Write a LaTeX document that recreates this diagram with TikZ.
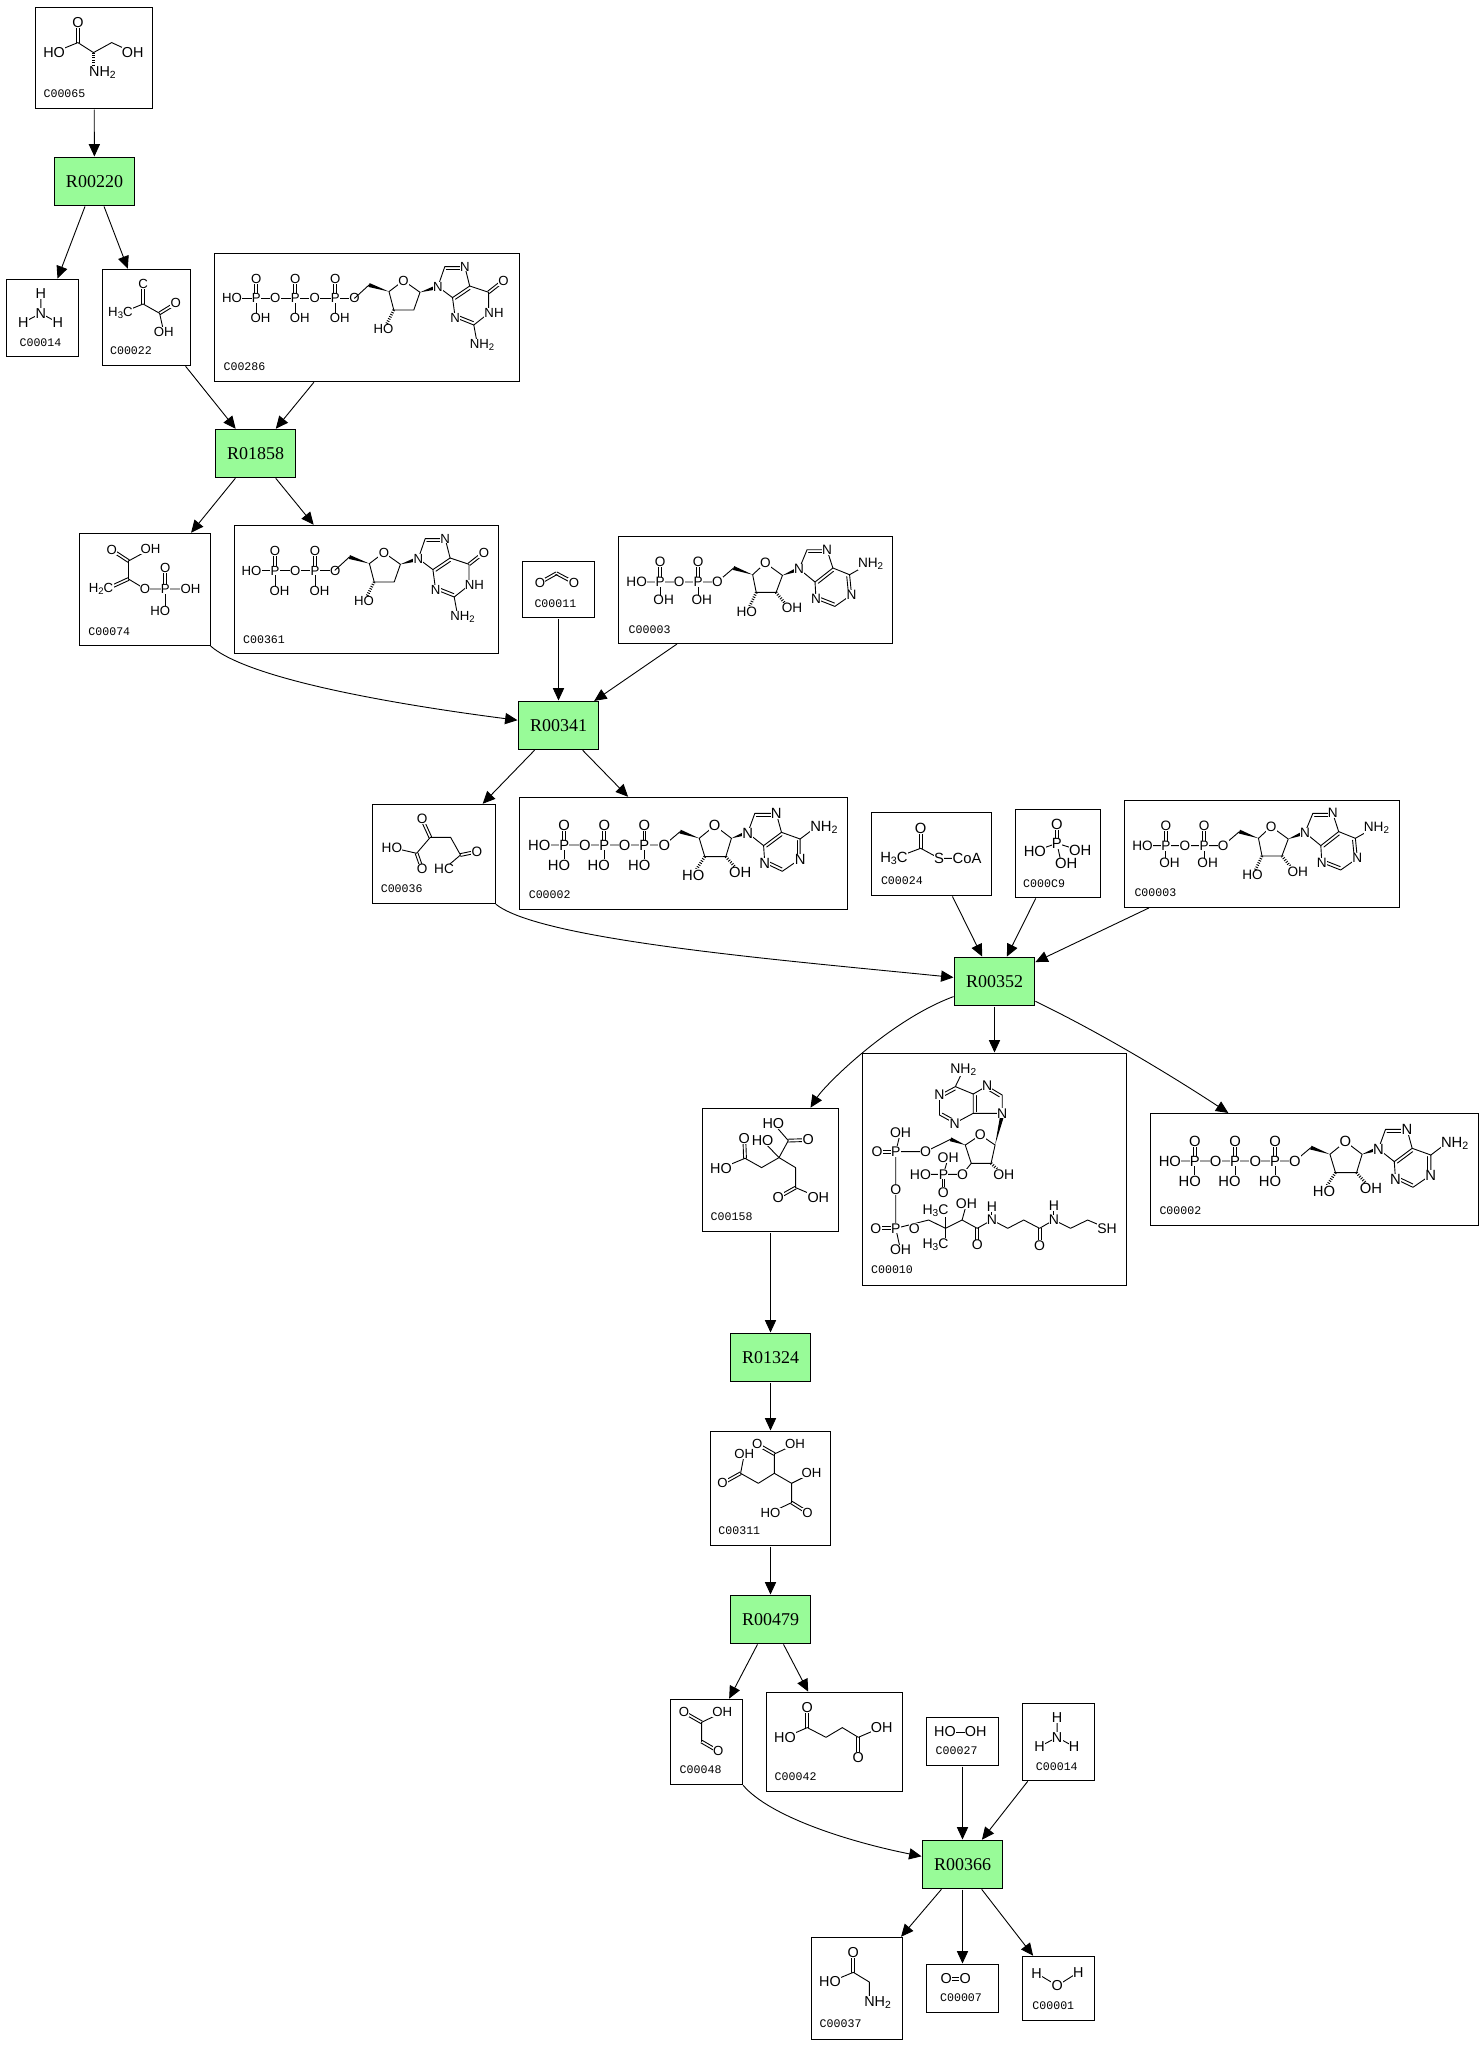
\documentclass[tikz,border=0pt]{standalone}
\usepackage{fontspec}
\setmainfont{Liberation Sans}
\newfontfamily\monof{Liberation Mono}
\newfontfamily\serf{Liberation Serif}
\usetikzlibrary{arrows.meta,calc}
\definecolor{rgreen}{RGB}{152,251,152}
\newcounter{atm}
\def\asz{7.2}
\newcommand\subn[1]{\raisebox{-0.3ex}{\scalebox{.72}{#1}}}
\tikzset{
 cpd/.style={draw=black,line width=0.5pt,fill=white,rectangle,inner sep=0pt,outer sep=0pt},
 rxn/.style={draw=black,line width=0.5pt,fill=rgreen,rectangle,inner sep=0pt,outer sep=0pt,minimum width=40pt,minimum height=24pt,font=\serf\fontsize{9}{9}\selectfont},
 rea/.style={line width=0.45pt,-{Triangle[length=6.2pt,width=5.6pt]},shorten <=.5pt,shorten >=.5pt},
 bond/.style={line width=0.45pt,line cap=round,line join=round},
 cid/.style={inner sep=0pt,font=\monof\fontsize{5.8}{5.8}\selectfont},
 atom/.style={inner sep=0.15pt,fill=white,font=\fontsize{\asz}{\asz}\selectfont},
}
\newcommand\At[2]{\stepcounter{atm}\node[atom] (at\theatm) at (#1) {#2};}
\newcommand\DB[2]{\draw[bond] ($(#1)!.7pt!90:(#2)$)--($(#2)!.7pt!-90:(#1)$);\draw[bond] ($(#1)!.7pt!-90:(#2)$)--($(#2)!.7pt!90:(#1)$);}
\newcommand\RD[3]{\draw[bond,shorten <=.8pt,shorten >=.8pt] ($(#1)!1.5pt!#3:(#2)$)--($(#2)!1.5pt!-#3:(#1)$);}
\newcommand\WD[2]{\fill (#1)--($(#2)!1pt!90:(#1)$)--($(#2)!1pt!-90:(#1)$)--cycle;}
\newcommand\HW[2]{\draw[line width=1.4pt,dash pattern=on 0.45pt off 0.75pt] (#1)--(#2);}
% name x0 x1 y0 y1 lx ly label body
\newcommand\cmp[9]{%
 \pgfmathsetmacro\xa{floor(#2)+.5}\pgfmathsetmacro\xb{floor(#3)+.5}%
 \pgfmathsetmacro\ya{floor(#4)+.5}\pgfmathsetmacro\yb{floor(#5)+.5}%
 \node[cpd,minimum width={(\xb-\xa)*0.5pt},minimum height={(\yb-\ya)*0.5pt}] (#1) at ({(\xa+\xb)/2},{(\ya+\yb)/2}) {};
 \begin{scope}[shift={(#2,#4)}]
 #9
 \node[cid] (#1-id) at (#6,#7) {#8};
 \end{scope}}
% phosphate: px py oy lx ly lowtext
\newcommand\Pho[6]{\DB{#1,#2}{#1,#3}\draw[bond] (#1,#2)--(#1,#5);\At{#4,#5}{#6}\At{#1,#3}{O}\At{#1,#2}{P}}
\newcommand\dGpart{%
 \draw[bond] (140,45)--(154.5,31.7);
 \WD{174.5,38.3}{154.5,31.7}
 \draw[bond] (174.5,38.3)--(189,27.3)--(205.5,39)--(199.3,56.7)--(179.3,56.7)--cycle;
 \HW{179.3,56.7}{172,71}
 \WD{205.5,39}{221,34.3}
 \draw[bond] (223.4,33.3)--(230.3,13.3)--(250.3,13.3)--(255.2,32.7)--(238,44.3)--(223.4,33.3);
 \RD{230.3,13.3}{250.3,13.3}{-90}
 \RD{255.2,32.7}{238,44.3}{90}
 \draw[bond] (255.2,32.7)--(274.1,39)--(274.1,60)--(259.3,71.7)--(240.7,64.3)--(238,44.3);
 \RD{259.3,71.7}{240.7,64.3}{-90}
 \DB{274.1,39}{289,27.3}
 \draw[bond] (259.3,71.7)--(263,91.7);
 \At{169,75.7}{HO}\At{223.4,33.3}{N}\At{250.3,13.3}{N}\At{240.7,64.3}{N}
 \At{279.5,60}{NH}\At{289,27.3}{O}\At{267.6,91.7}{NH\subn{2}}\At{189,27.3}{O}}
\newcommand\ADPthree{%
 \draw[bond] (18.4,45.3)--(99.6,45.3)--(116,31.3);
 \At{61.2,45.3}{O}\At{99.6,45.3}{O}\At{18.4,45.3}{HO}
 \Pho{42}{45.3}{25.3}{45.6}{63}{OH}
 \Pho{80.4}{45.3}{25.3}{84}{63}{OH}
 \WD{135.2,38}{116,31.3}
 \draw[bond] (135.2,38)--(148,26.3)--(165.2,38.7)--(158.8,55.7)--(138.8,55.7)--cycle;
 \HW{138.8,55.7}{132,70}\HW{158.8,55.7}{168,67}
 \WD{165.2,38.7}{180,33}
 \draw[bond] (182,32.3)--(190,13)--(210,13)--(216,31.3)--(198,45.3)--(182,32.3);
 \RD{190,13}{210,13}{-90}\RD{216,31.3}{198,45.3}{90}
 \draw[bond] (216,31.3)--(232.8,38)--(234.8,58)--(218,69.7)--(199,62.3)--(198,45.3);
 \RD{232.8,38}{234.8,58}{-90}\RD{218,69.7}{199,62.3}{-90}
 \draw[bond] (232.8,38)--(247,30);
 \At{129.2,74.7}{HO}\At{174.8,71.3}{OH}\At{182,32.3}{N}\At{210,13}{N}\At{234.8,58}{N}\At{199,62.3}{N}
 \At{254,27.3}{NH\subn{2}}\At{148,26.3}{O}}
\newcommand\ATPfull{%
 \draw[bond] (19.6,47.7)--(145.6,47.7)--(161.6,34.3);
 \At{65.6,47.7}{O}\At{105.6,47.7}{O}\At{145.6,47.7}{O}\At{19.6,47.7}{HO}
 \Pho{44.8}{47.7}{27.7}{39.6}{67.7}{HO}
 \Pho{85.2}{47.7}{27.7}{79.6}{67.7}{HO}
 \Pho{125.6}{47.7}{27.7}{120.4}{67.7}{HO}
 \WD{180.8,41}{161.6,34.3}
 \draw[bond] (180.8,41)--(196.4,28.3)--(213.2,41)--(207.6,59.3)--(186.4,59.3)--cycle;
 \HW{186.4,59.3}{178,72}\HW{207.6,59.3}{217,70}
 \WD{213.2,41}{227.5,36}
 \draw[bond] (229.6,35.7)--(236.8,16)--(258.4,16)--(263.6,35)--(245.6,48.3)--(229.6,35.7);
 \RD{236.8,16}{258.4,16}{-90}\RD{263.6,35}{245.6,48.3}{90}
 \draw[bond] (263.6,35)--(282.4,41.7)--(282.4,61.7)--(264.4,74)--(246.8,65.7)--(245.6,48.3);
 \RD{282.4,41.7}{282.4,61.7}{-90}\RD{264.4,74}{246.8,65.7}{-90}
 \draw[bond] (282.4,41.7)--(298,30);
 \At{174.8,77.7}{HO}\At{222,75}{OH}\At{229.6,35.7}{N}\At{258.4,16}{N}\At{282.4,61.7}{N}\At{246.8,65.7}{N}
 \At{306.4,30}{NH\subn{2}}\At{196.4,28.3}{O}}
\begin{document}
\begin{tikzpicture}[x=0.5pt,y=-0.5pt]
\path[fill=white] (0,0) rectangle (1483,2045);
\useasboundingbox (0,0) rectangle (1483,2045);

\def\asz{7.2}
\cmp{C00065}{35.5}{152.8}{7.3}{108.3}{29}{86.7}{C00065}{
 \draw[bond] (18.6,45)--(42.4,35.3)--(58,45.3)--(76.2,35.3)--(97.2,45);
 \DB{42.4,35.3}{42.4,15}
 \HW{58,45.3}{58,58}
 \At{42.4,15}{O}\At{18.6,45}{HO}\At{97.2,45}{OH}\At{66.9,65}{NH\subn{2}}}

\node[rxn] (R00220) at (94.5,181.5) {R00220};

\cmp{C00014a}{6}{78.3}{279.3}{356.3}{34.5}{63}{C00014}{
 \draw[bond] (34.8,14.7)--(34.8,34)--(17.2,43.3);\draw[bond] (34.8,34)--(51.7,43.3);
 \At{34.8,14.7}{H}\At{34.8,34}{N}\At{17.2,43.3}{H}\At{51.7,43.3}{H}}

\def\asz{6.6}
\cmp{C00022}{102.4}{190.7}{269.3}{365.3}{28.6}{81.3}{C00022}{
 \draw[bond] (18,44)--(40.7,34.7)--(57.2,44)--(61.4,63);
 \DB{40.7,34.7}{40.7,14.7}\DB{57.2,44}{73.4,34}
 \At{40.7,14.7}{C}\At{18,44}{H\subn{3}C}\At{73.4,34}{O}\At{61.4,63}{OH}}

\cmp{C00286}{214.5}{519}{253.3}{381}{30}{113.7}{C00286}{
 \draw[bond] (17.6,45)--(140,45);
 \At{60.7,45}{O}\At{100.3,45}{O}\At{140,45}{O}\At{17.6,45}{HO}
 \Pho{41.7}{45}{25.3}{45.9}{65}{OH}
 \Pho{80.7}{45}{25.3}{85.2}{65}{OH}
 \Pho{120.7}{45}{25.3}{125.2}{65}{OH}
 \dGpart}

\node[rxn] (R01858) at (255.5,453.5) {R01858};

\cmp{C00074}{79.7}{210.3}{533.3}{645.3}{29.6}{98}{C00074}{
 \draw[bond] (70.8,15.7)--(48.8,27.7)--(48.8,45.7);
 \draw[bond] (48.8,45.7)--(65.3,55.7)--(110.8,55.7);\draw[bond] (85.6,55.7)--(85.6,77.7);
 \DB{48.8,27.7}{32,16.7}\DB{48.8,45.7}{27,55.7}\DB{85.6,55.7}{85.6,35}
 \At{32,16.7}{O}\At{70.8,15.7}{OH}\At{21.4,55.7}{H\subn{2}C}\At{65.3,55.7}{O}\At{85.6,55.7}{P}
 \At{85.6,35}{O}\At{110.8,55.7}{OH}\At{80.6,77.7}{HO}}

\cmp{C00361}{234.4}{498.3}{525.3}{653.3}{29.6}{114}{C00361}{
 \draw[bond] (17,45.3)--(100.9,45.3);
 \At{60.9,45.3}{O}\At{100.9,45.3}{O}\At{17,45.3}{HO}
 \Pho{40.6}{45.3}{25.3}{45}{65.3}{OH}
 \Pho{80.6}{45.3}{25.3}{85}{65.3}{OH}
 \begin{scope}[shift={(-39.5,0)}]\dGpart\end{scope}}

\cmp{C00011}{522.4}{594.3}{561.3}{617.3}{33}{42}{C00011}{
 \DB{34,12}{17.5,21.3}\DB{34,12}{51.5,21.3}
 \At{17.5,21.3}{O}\At{51.5,21.3}{O}}

\def\asz{6.8}
\cmp{C00003a}{618.4}{892.7}{536.7}{643.3}{31.2}{92.7}{C00003}{\begin{scope}[xscale=.993]\ADPthree\end{scope}}

\node[rxn] (R00341) at (558.5,725.5) {R00341};

\cmp{C00036}{372.7}{495.5}{804.3}{903.3}{29}{84.7}{C00036}{
 \draw[bond] (19.2,43.3)--(43.9,49)--(57.6,33)--(77.9,33)--(87.8,50.7)--(71.3,64.7);
 \DB{57.6,33}{49.4,15}\DB{87.8,50.7}{104.3,47.3}\DB{43.9,49}{49.4,64.7}
 \At{49.4,15}{O}\At{19.2,43.3}{HO}\At{49.4,64.7}{O}\At{104.3,47.3}{O}\At{71.3,64.7}{HC}}

\def\asz{7.4}
\cmp{C00002a}{519.7}{847.7}{797.3}{909.3}{30}{97.7}{C00002}{\begin{scope}[xscale=.993]\ATPfull\end{scope}}

\cmp{C00024}{871.5}{991.5}{812.3}{895.7}{30.4}{68.7}{C00024}{
 \draw[bond] (22.4,46)--(49.2,36)--(67.6,46)--(95.6,46);
 \DB{49.2,36}{49.2,16}
 \At{49.2,16}{O}\At{22.4,46}{H\subn{3}C}\At{67.6,46}{S}\At{95.6,46}{CoA}}

\cmp{C00009}{1015.3}{1100.4}{809.3}{897.3}{28.8}{74}{C000C9}{
 \draw[bond] (19.6,41.7)--(41.6,34)--(65,41.3);\draw[bond] (41.6,34)--(46,54);
 \DB{41.6,34}{41.6,14.7}
 \At{41.6,14.7}{O}\At{19.6,41.7}{HO}\At{65,41.3}{OH}\At{50.8,54}{OH}\At{41.6,34}{P}}

\def\asz{6.8}
\cmp{C00003b}{1124.2}{1399.5}{800.3}{907.3}{31.2}{92.7}{C00003}{\begin{scope}[xscale=.993]\ADPthree\end{scope}}

\node[rxn] (R00352) at (994.5,981.5) {R00352};

\def\asz{7.2}
\cmp{C00158}{702.3}{838.3}{1108.3}{1231.3}{29.3}{108.7}{C00158}{
 \draw[bond] (71,15)--(86,32.3)--(76.7,49.3)--(59.3,59.3)--(42.7,50)--(18.7,60);
 \draw[bond] (60.3,32.3)--(76.7,49.3)--(93.3,59.3)--(93.3,79.3)--(116,89);
 \DB{86,32.3}{106,31.7}\DB{42.7,50}{42,30}\DB{93.3,79.3}{76,89}
 \At{71,15}{HO}\At{106,31.7}{O}\At{60.3,32.3}{HO}\At{42,30}{O}\At{18.7,60}{HO}\At{76,89}{O}\At{116,89}{OH}}

\def\asz{7.0}
\cmp{C00010}{862.4}{1126.2}{1053.3}{1285.3}{29.6}{216.7}{C00010}{\begin{scope}[xscale=.993]
 \draw[bond] (101.6,16.7)--(93.6,33.3)--(77.6,41.7)--(77.6,61.7)--(92.8,70)--(111.6,60)--(111.6,40.7)--(93.6,33.3);
 \draw[bond] (111.6,40.7)--(125.6,32.7)--(140.8,41.7)--(140.8,60)--(111.6,60);
 \RD{93.6,33.3}{77.6,41.7}{90}\RD{77.6,61.7}{92.8,70}{90}\RD{111.6,60}{111.6,40.7}{-90}\RD{125.6,32.7}{140.8,41.7}{-90}
 \WD{133.6,91.7}{140.8,62}
 \draw[bond] (133.6,91.7)--(118.8,81.7)--(103.6,91.7)--(109.6,110)--(129.6,110)--cycle;
 \WD{103.6,91.7}{88.8,86}
 \draw[bond] (88.8,86)--(63.6,98.3)--(33.6,98.3)--(33.6,175)--(66.8,166.7)--(83.6,175)--(100.4,166.7)--(115.6,175)--(130.4,166.7)--(146.4,175)--(162.4,166.7)--(178.4,175)--(192.8,166.7)--(209.6,175)--(226.8,166.7)--(246.4,175);
 \draw[bond] (33.6,98.3)--(38.4,79);
 \draw[bond] (33.6,175)--(38.4,196.7);
 \draw[bond] (83.6,157.3)--(83.6,191);
 \draw[bond] (100.4,166.7)--(104.8,150.7);
 \draw[bond] (130.4,153.3)--(130.4,166.7);\draw[bond] (192.8,152.7)--(192.8,166.7);
 \DB{115.6,175}{115.6,191.7}\DB{178.4,175}{178.4,192.3}
 \draw[bond] (109.6,110)--(100.8,121)--(58.4,121);\draw[bond] (81.6,121)--(86.4,104.3);
 \HW{129.6,110}{138,118}
 \DB{81.6,121}{81.6,139}\DB{33.6,98.3}{18,98.3}\DB{33.6,175}{17,175}
 \At{101.6,16.7}{NH\subn{2}}\At{77.6,41.7}{N}\At{92.8,70}{N}\At{125.6,32.7}{N}\At{140.8,60}{N}
 \At{118.8,81.7}{O}\At{142.4,121}{OH}\At{100.8,121}{O}\At{81.6,121}{P}\At{58.4,121}{HO}\At{86.4,104.3}{OH}\At{81.6,139}{O}
 \At{63.6,98.3}{O}\At{33.6,98.3}{P}\At{14.8,98.3}{O}\At{38.4,79}{OH}\At{33.6,136.7}{O}
 \At{33.6,175}{P}\At{13.6,175}{O}\At{52.4,175}{O}\At{38.4,196.7}{OH}
 \At{73.6,157.3}{H\subn{3}C}\At{73.6,191}{H\subn{3}C}\At{104.8,150.7}{OH}\At{115.6,191.7}{O}
 \At{130.4,153.3}{H}\At{130.4,166.7}{N}\At{178.4,192.3}{O}\At{192.8,152.7}{H}\At{192.8,166.7}{N}\At{246.4,175}{SH}\end{scope}}

\def\asz{7.4}
\cmp{C00002b}{1150.4}{1478.6}{1113.3}{1225.3}{30}{97.7}{C00002}{\begin{scope}[xscale=.993]\ATPfull\end{scope}}

\node[rxn] (R01324) at (770.5,1357.5) {R01324};

\def\asz{6.6}
\cmp{C00311}{710.3}{830.3}{1431.3}{1545.3}{29}{99.7}{C00311}{
 \draw[bond] (84.7,13)--(64,22.7)--(64,42)--(48,52)--(30.3,42)--(34,22.7);
 \draw[bond] (64,42)--(81.3,52)--(101.3,42);\draw[bond] (81.3,52)--(81.3,71.3)--(60.3,81.3);
 \DB{64,22.7}{47,13}\DB{30.3,42}{12.3,52}\DB{81.3,71.3}{97.3,81.3}
 \At{47,13}{O}\At{84.7,13}{OH}\At{34,22.7}{OH}\At{12.3,52}{O}\At{101.3,42}{OH}\At{60.3,81.3}{HO}\At{97.3,81.3}{O}}

\node[rxn] (R00479) at (770.5,1619.5) {R00479};

\cmp{C00048}{670.3}{742.3}{1699.3}{1784.3}{30.3}{70.7}{C00048}{
 \draw[bond] (52,13)--(31.3,23)--(31.3,42.3);
 \DB{31.3,23}{13.7,13}\DB{31.3,42.3}{48,52}
 \At{13.7,13}{O}\At{52,13}{OH}\At{48,52}{O}}

\def\asz{7.2}
\cmp{C00042}{766.3}{902.3}{1692.3}{1791.3}{29.3}{84.7}{C00042}{
 \draw[bond] (18.7,45)--(41,35.3)--(59.7,45)--(76,35.3)--(92,45)--(115.3,35);
 \DB{41,35.3}{41,15}\DB{92,45}{92,65}
 \At{41,15}{O}\At{18.7,45}{HO}\At{115.3,35}{OH}\At{92,65}{O}}

\cmp{C00027}{926.3}{998.3}{1717.3}{1765.3}{30.3}{33.7}{C00027}{
 \draw[bond] (18.7,14.7)--(49.3,14.7);
 \At{18.7,14.7}{HO}\At{49.3,14.7}{OH}}

\cmp{C00014b}{1022.3}{1094.3}{1703.3}{1780.3}{34.5}{63}{C00014}{
 \draw[bond] (34.8,14.7)--(34.8,34)--(17.2,43.3);\draw[bond] (34.8,34)--(51.7,43.3);
 \At{34.8,14.7}{H}\At{34.8,34}{N}\At{17.2,43.3}{H}\At{51.7,43.3}{H}}

\node[rxn] (R00366) at (962.5,1864.5) {R00366};

\cmp{C00037}{811.3}{902.3}{1937.3}{2039.3}{29.3}{86.7}{C00037}{
 \draw[bond] (18.7,44.7)--(42,35)--(58,44.7)--(58,60);
 \DB{42,35}{42,15}
 \At{42,15}{O}\At{18.7,44.7}{HO}\At{66.3,65}{NH\subn{2}}}

\cmp{C00007}{926.3}{998.3}{1964.3}{2012.3}{34.7}{33.7}{C00007}{
 \DB{20,14.7}{39,14.7}
 \At{20,14.7}{O}\At{39,14.7}{O}}

\cmp{C00001}{1022.3}{1094.3}{1956.3}{2020.3}{31}{49.7}{C00001}{
 \draw[bond] (14.3,17)--(35,29.3)--(56,16);
 \At{14.3,17}{H}\At{35,29.3}{O}\At{56,16}{H}}

% connectors
\draw[rea] (C00065)--(R00220);
\draw[rea] (R00220)--(C00014a);
\draw[rea] (R00220)--(C00022);
\draw[rea] (C00022)--(R01858);
\draw[rea] (C00286)--(R01858);
\draw[rea] (R01858)--(C00074);
\draw[rea] (R01858)--(C00361);
\draw[rea] (C00074) .. controls (250,680) and (400,705) .. (R00341);
\draw[rea] (C00011)--(R00341);
\draw[rea] (C00003a)--(R00341);
\draw[rea] (R00341)--(C00036);
\draw[rea] (R00341)--(C00002a);
\draw[rea] (C00036) .. controls (540,940) and (780,960) .. (R00352);
\draw[rea] (C00024)--(R00352);
\draw[rea] (C00009)--(R00352);
\draw[rea] (C00003b)--(R00352);
\draw[rea] (R00352) .. controls (890,1020) and (825,1085) .. (C00158);
\draw[rea] (R00352)--(C00010);
\draw[rea] (R00352) .. controls (1105,1035) and (1175,1078) .. (C00002b);
\draw[rea] (C00158)--(R01324);
\draw[rea] (R01324)--(C00311);
\draw[rea] (C00311)--(R00479);
\draw[rea] (R00479)--(C00048);
\draw[rea] (R00479)--(C00042);
\draw[rea] (C00048) .. controls (770,1817) and (850,1842) .. (R00366);
\draw[rea] (C00027)--(R00366);
\draw[rea] (C00014b)--(R00366);
\draw[rea] (R00366)--(C00037);
\draw[rea] (R00366)--(C00007);
\draw[rea] (R00366)--(C00001);
\end{tikzpicture}
\end{document}
